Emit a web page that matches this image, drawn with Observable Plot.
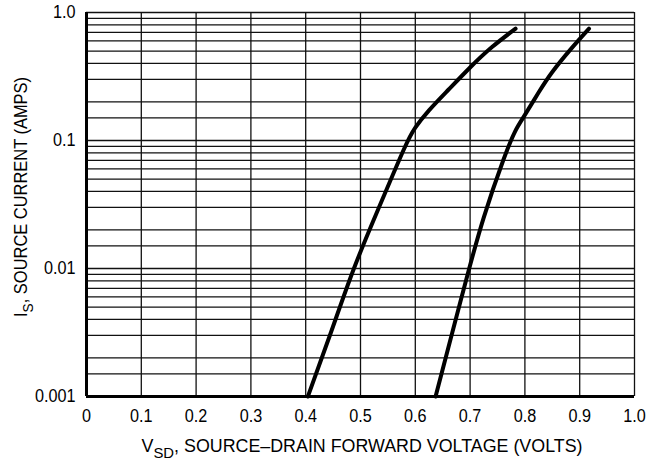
<!DOCTYPE html>
<html>
<head>
<meta charset="utf-8">
<script src="https://cdn.jsdelivr.net/npm/d3@7"></script>
<script src="https://cdn.jsdelivr.net/npm/@observablehq/plot@0.6"></script>
<style>
  html, body { margin: 0; padding: 0; background: #fff; }
  #chart svg { display: block; }
</style>
</head>
<body>
<div id="chart"></div>
<script>
// Left curve (lower forward voltage): V_SD (volts), I_S (amps)
const leftV = [0.404, 0.446, 0.488, 0.534, 0.578, 0.600, 0.625, 0.660, 0.700, 0.740, 0.783];
const leftI = [0.001, 0.00316, 0.0100, 0.0302, 0.0832, 0.126, 0.172, 0.248, 0.372, 0.537, 0.748];
// Right curve (higher forward voltage)
const rightV = [0.637, 0.665, 0.694, 0.725, 0.760, 0.782, 0.800, 0.825, 0.850, 0.883, 0.917];
const rightI = [0.001, 0.00288, 0.00851, 0.0251, 0.0692, 0.1175, 0.1585, 0.237, 0.343, 0.513, 0.748];

const xTickValues = [0, 0.1, 0.2, 0.3, 0.4, 0.5, 0.6, 0.7, 0.8, 0.9, 1.0];
const xTickLabels = ["0", "0.1", "0.2", "0.3", "0.4", "0.5", "0.6", "0.7", "0.8", "0.9", "1.0"];
const yTickValues = [1, 0.1, 0.01, 0.001];
const yTickLabels = ["1.0", "0.1", "0.01", "0.001"];
const yGridValues = [
  0.001, 0.0015, 0.002, 0.003, 0.004, 0.005, 0.006, 0.007, 0.008, 0.009,
  0.01, 0.015, 0.02, 0.03, 0.04, 0.05, 0.06, 0.07, 0.08, 0.09,
  0.1, 0.15, 0.2, 0.3, 0.4, 0.5, 0.6, 0.7, 0.8, 0.9, 1.0
];

const leftData = leftV.map((v, k) => ({v, i: leftI[k]}));
const rightData = rightV.map((v, k) => ({v, i: rightI[k]}));

const fontFamily = "'Liberation Sans Narrow', 'Arial Narrow', 'Liberation Sans', Arial, sans-serif";

const chart = Plot.plot({
  width: 647,
  height: 464,
  marginLeft: 86,
  marginRight: 13,
  marginTop: 12,
  marginBottom: 68,
  style: {fontFamily, fontSize: "18px", color: "#000", background: "#fff", overflow: "visible"},
  x: {domain: [0, 1]},
  y: {type: "log", domain: [0.001, 1]},
  marks: [
    Plot.ruleY(yGridValues, {stroke: "#111", strokeWidth: 1.3}),
    Plot.ruleX(xTickValues, {stroke: "#111", strokeWidth: 1.3}),
    Plot.ruleX([0], {stroke: "#000", strokeWidth: 3}),
    Plot.ruleY([0.001], {stroke: "#000", strokeWidth: 3}),
    Plot.line(leftData, {x: "v", y: "i", stroke: "#000", strokeWidth: 4, curve: "natural", strokeLinecap: "round"}),
    Plot.line(rightData, {x: "v", y: "i", stroke: "#000", strokeWidth: 4, curve: "natural", strokeLinecap: "round"}),
    Plot.axisX({ticks: xTickValues, tickFormat: d => xTickLabels[xTickValues.indexOf(d)], tickSize: 0, tickPadding: 13, label: null, fill: "#000"}),
    Plot.axisY({ticks: yTickValues, tickFormat: d => yTickLabels[yTickValues.indexOf(d)], tickSize: 0, tickPadding: 11, label: null, fill: "#000"})
  ]
});

document.getElementById("chart").appendChild(chart);

const svg = d3.select(chart);

// Condense tick labels slightly to mimic the narrow datasheet typeface
svg.selectAll("g[aria-label$='tick label'] text").each(function() {
  const len = this.getComputedTextLength();
  if (len > 0) {
    this.setAttribute("lengthAdjust", "spacingAndGlyphs");
    this.setAttribute("textLength", (len * 0.9).toFixed(2));
  }
});

// X axis title with subscript
const xt = svg.append("text")
  .attr("x", 362).attr("y", 452)
  .attr("text-anchor", "middle")
  .attr("font-family", fontFamily)
  .attr("font-size", 18)
  .attr("fill", "#000")
  .attr("lengthAdjust", "spacingAndGlyphs")
  .attr("textLength", 441);
xt.append("tspan").text("V");
xt.append("tspan").attr("font-size", 15).attr("dy", 6).text("SD");
xt.append("tspan").attr("dy", -6).text(", SOURCE\u2013DRAIN FORWARD VOLTAGE (VOLTS)");

// Y axis title with subscript
const yt = svg.append("text")
  .attr("transform", "translate(27,197) rotate(-90)")
  .attr("text-anchor", "middle")
  .attr("font-family", fontFamily)
  .attr("font-size", 18)
  .attr("fill", "#000")
  .attr("lengthAdjust", "spacingAndGlyphs")
  .attr("textLength", 240);
yt.append("tspan").text("I");
yt.append("tspan").attr("font-size", 15).attr("dy", 6).text("S");
yt.append("tspan").attr("dy", -6).text(", SOURCE CURRENT (AMPS)");
</script>
</body>
</html>
